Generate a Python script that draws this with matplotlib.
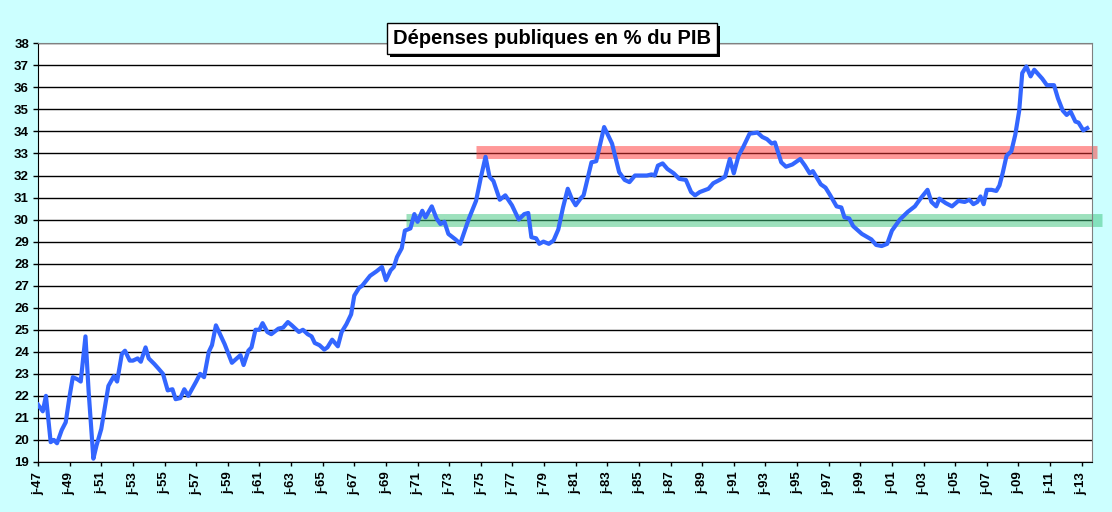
import matplotlib
matplotlib.use('Agg')
import matplotlib.pyplot as plt
import matplotlib.patheffects as pe
import numpy as np

# dates (decimal year) and public spending in % of GDP
years = [1947.0, 1947.3, 1947.5, 1947.8, 1948.0, 1948.2, 1948.5, 1948.75, 1949.0, 1949.2,
         1949.5, 1949.7, 1950.0, 1950.2, 1950.5, 1950.7, 1951.0, 1951.45, 1951.8, 1952.0,
         1952.3, 1952.5, 1952.8, 1953.0, 1953.3, 1953.5, 1953.8, 1954.0, 1954.35, 1954.6,
         1954.9, 1955.2, 1955.5, 1955.7, 1956.0, 1956.25, 1956.5, 1957.0, 1957.25, 1957.5,
         1957.8, 1958.0, 1958.25, 1958.8, 1959.26, 1959.8, 1960.0, 1960.3, 1960.5, 1960.75,
         1961.0, 1961.2, 1961.5, 1961.75, 1962.2, 1962.5, 1962.8, 1963.05, 1963.5, 1963.75,
         1964.05, 1964.3, 1964.5, 1964.8, 1965.1, 1965.3, 1965.6, 1965.96, 1966.2, 1966.5,
         1966.8, 1967.0, 1967.3, 1967.5, 1968.0, 1968.4, 1968.75, 1969.0, 1969.3, 1969.5,
         1969.7, 1970.0, 1970.2, 1970.55, 1970.8, 1971.0, 1971.3, 1971.5, 1971.9, 1972.2,
         1972.45, 1972.7, 1972.95, 1973.4, 1973.7, 1974.25, 1974.7, 1975.0, 1975.3, 1975.55,
         1975.8, 1976.2, 1976.55, 1976.97, 1977.4, 1977.75, 1978.0, 1978.2, 1978.5, 1978.7,
         1978.96, 1979.3, 1979.6, 1979.9, 1980.2, 1980.5, 1980.75, 1981.0, 1981.3, 1981.5,
         1981.9, 1982.0, 1982.3, 1982.8, 1983.3, 1983.75, 1984.1, 1984.4, 1984.75, 1985.2,
         1985.5, 1985.8, 1986.0, 1986.2, 1986.5, 1986.8, 1987.2, 1987.55, 1987.97, 1988.3,
         1988.55, 1988.85, 1989.4, 1989.7, 1990.1, 1990.45, 1990.75, 1991.0, 1991.3, 1991.6,
         1992.0, 1992.5, 1992.8, 1993.1, 1993.4, 1993.6, 1994.0, 1994.3, 1994.7, 1995.2,
         1995.5, 1995.8, 1996.0, 1996.5, 1996.8, 1997.1, 1997.5, 1997.8, 1998.0, 1998.3,
         1998.55, 1999.1, 1999.7, 2000.0, 2000.35, 2000.7, 2001.0, 2001.5, 2002.0, 2002.45,
         2002.8, 2003.25, 2003.5, 2003.8, 2004.0, 2004.4, 2004.8, 2005.2, 2005.6, 2005.9,
         2006.15, 2006.4, 2006.6, 2006.8, 2007.0, 2007.3, 2007.6, 2007.8, 2008.0, 2008.25,
         2008.55, 2008.8, 2009.05, 2009.24, 2009.5, 2009.77, 2010.0, 2010.5, 2010.8, 2011.25,
         2011.5, 2011.8, 2012.05, 2012.3, 2012.6, 2012.8, 2013.1, 2013.35]
depenses = [21.6, 21.3, 22.0, 19.9, 20.0, 19.85, 20.45, 20.8, 22.0, 22.85,
            22.75, 22.65, 24.7, 22.2, 19.15, 19.75, 20.5, 22.45, 22.9, 22.65,
            23.9, 24.05, 23.6, 23.6, 23.7, 23.55, 24.2, 23.7, 23.45, 23.25,
            23.0, 22.25, 22.3, 21.85, 21.9, 22.3, 22.0, 22.65, 23.0, 22.85,
            24.0, 24.3, 25.2, 24.35, 23.5, 23.85, 23.4, 24.05, 24.2, 25.0,
            25.0, 25.3, 24.9, 24.8, 25.05, 25.1, 25.35, 25.2, 24.9, 25.0,
            24.8, 24.7, 24.4, 24.3, 24.1, 24.2, 24.55, 24.25, 24.9, 25.25,
            25.7, 26.55, 26.9, 27.0, 27.45, 27.65, 27.85, 27.25, 27.7, 27.85,
            28.3, 28.7, 29.5, 29.6, 30.25, 29.9, 30.4, 30.1, 30.6, 30.05,
            29.8, 29.9, 29.35, 29.1, 28.9, 30.05, 30.85, 31.9, 32.85, 31.95,
            31.75, 30.9, 31.1, 30.65, 30.0, 30.25, 30.3, 29.2, 29.15, 28.9,
            29.0, 28.9, 29.05, 29.55, 30.55, 31.4, 30.95, 30.65, 30.95, 31.1,
            32.3, 32.6, 32.65, 34.2, 33.45, 32.15, 31.8, 31.7, 32.0, 32.0,
            32.0, 32.05, 32.0, 32.45, 32.55, 32.3, 32.1, 31.85, 31.8, 31.25,
            31.1, 31.25, 31.4, 31.65, 31.8, 31.95, 32.75, 32.1, 32.9, 33.3,
            33.9, 33.95, 33.75, 33.65, 33.45, 33.5, 32.6, 32.4, 32.5, 32.75,
            32.45, 32.1, 32.2, 31.6, 31.45, 31.1, 30.6, 30.55, 30.1, 30.05,
            29.7, 29.35, 29.1, 28.85, 28.8, 28.9, 29.5, 30.0, 30.35, 30.6,
            30.95, 31.35, 30.8, 30.6, 30.95, 30.75, 30.6, 30.85, 30.8, 30.9,
            30.7, 30.8, 31.05, 30.7, 31.35, 31.35, 31.3, 31.55, 32.1, 32.9,
            33.1, 33.85, 34.95, 36.65, 36.95, 36.5, 36.8, 36.4, 36.1, 36.1,
            35.5, 34.95, 34.75, 34.9, 34.45, 34.4, 34.05, 34.15]

# reference levels drawn as thick bands
red_level = 33.05
red_span = [1974.72, 2013.94]
green_level = 30.0
green_span = [1970.26, 2014.3]

tick_years = list(range(1947, 2014, 2))
tick_labels = ['j-%02d' % (y % 100) for y in tick_years]

plt.rcParams['font.family'] = ['Liberation Sans', 'DejaVu Sans']

fig = plt.figure(figsize=(11.12, 5.12), dpi=100)
fig.patch.set_facecolor('#CCFFFF')
ax = fig.add_axes([0.0342, 0.0977, 0.9475, 0.8177])
ax.set_facecolor('white')

ax.set_xlim(1947, 2013.63)
ax.set_ylim(19, 38)
ax.set_yticks(range(19, 39))
ax.yaxis.grid(True, color='black', linewidth=1.0)
ax.set_axisbelow(True)

ax.plot(green_span, [green_level, green_level], color='#3CC47C', alpha=0.5,
        linewidth=9.3, solid_capstyle='butt', clip_on=False, zorder=2)
ax.plot(red_span, [red_level, red_level], color='#FF3333', alpha=0.5,
        linewidth=9.3, solid_capstyle='butt', clip_on=False, zorder=2)
ax.plot(years, depenses, color='#3366FF', linewidth=3.0, zorder=3,
        solid_joinstyle='round')

ax.set_xticks(tick_years)
ax.set_xticklabels(tick_labels, rotation=90, fontsize=9.5, fontweight='bold')
for lbl in ax.get_yticklabels():
    lbl.set_fontsize(9.5)
    lbl.set_fontweight('bold')
ax.tick_params(axis='y', direction='out', length=3.5, width=1, color='black', pad=3)
ax.tick_params(axis='x', direction='out', length=3, width=1, color='black', pad=4)

for side in ['top', 'right']:
    ax.spines[side].set_color('#808080')
for side in ['left', 'bottom']:
    ax.spines[side].set_color('black')

title = fig.text(0.4964, 0.924, 'Dépenses publiques en % du PIB', ha='center', va='center',
                 fontsize=14.5, fontweight='bold', color='black',
                 bbox=dict(boxstyle='square,pad=0.3', facecolor='white', edgecolor='black',
                           linewidth=1))
title.get_bbox_patch().set_path_effects([
    pe.withSimplePatchShadow(offset=(2, -2), shadow_rgbFace='black', alpha=1)])

fig.savefig('out.png', dpi=100, facecolor=fig.get_facecolor())
